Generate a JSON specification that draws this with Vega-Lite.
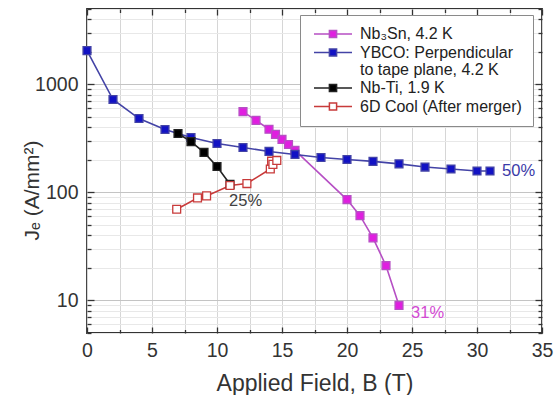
{
  "$schema": "https://vega.github.io/schema/vega-lite/v6.json",
  "width": 455,
  "height": 324,
  "autosize": {"type": "none"},
  "padding": {"left": 87, "top": 9, "right": 12, "bottom": 62},
  "background": "white",
  "config": {
    "font": "Liberation Sans",
    "view": {"stroke": "#333333", "strokeWidth": 1.8, "fill": "transparent"},
    "axis": {
      "domain": false,
      "labelFont": "Liberation Sans",
      "labelFontSize": 19.5,
      "labelColor": "#333333",
      "titleFont": "Liberation Sans",
      "titleFontWeight": "normal",
      "titleColor": "#333333",
      "tickColor": "#333333",
      "tickWidth": 1.3
    },
    "legend": {
      "orient": "none",
      "legendX": 213,
      "legendY": 6,
      "fillColor": "white",
      "strokeColor": "#8a8a8a",
      "padding": 11,
      "symbolType": "M-4.75,0H-0.9M0.9,0H4.75M-0.9,-0.9H0.9V0.9H-0.9Z",
      "symbolSize": 64,
      "symbolStrokeWidth": 1.5,
      "symbolOffset": 14,
      "labelFont": "Liberation Sans",
      "labelFontSize": 16,
      "labelColor": "#222222",
      "labelOffset": 19,
      "labelLimit": 300,
      "rowPadding": 2.5
    }
  },
  "data": {
    "values": [
      {"series": "Nb₃Sn, 4.2 K", "B": 12, "J": 560},
      {"series": "Nb₃Sn, 4.2 K", "B": 13, "J": 465},
      {"series": "Nb₃Sn, 4.2 K", "B": 14, "J": 385},
      {"series": "Nb₃Sn, 4.2 K", "B": 14.5, "J": 345},
      {"series": "Nb₃Sn, 4.2 K", "B": 15, "J": 310},
      {"series": "Nb₃Sn, 4.2 K", "B": 15.5, "J": 278},
      {"series": "Nb₃Sn, 4.2 K", "B": 16, "J": 245},
      {"series": "Nb₃Sn, 4.2 K", "B": 20, "J": 86},
      {"series": "Nb₃Sn, 4.2 K", "B": 21, "J": 61},
      {"series": "Nb₃Sn, 4.2 K", "B": 22, "J": 38},
      {"series": "Nb₃Sn, 4.2 K", "B": 23, "J": 21},
      {"series": "Nb₃Sn, 4.2 K", "B": 24, "J": 9},
      {"series": "YBCO: Perpendicular to tape plane, 4.2 K", "B": 0, "J": 2060},
      {"series": "YBCO: Perpendicular to tape plane, 4.2 K", "B": 2, "J": 726},
      {"series": "YBCO: Perpendicular to tape plane, 4.2 K", "B": 4, "J": 484},
      {"series": "YBCO: Perpendicular to tape plane, 4.2 K", "B": 6, "J": 383},
      {"series": "YBCO: Perpendicular to tape plane, 4.2 K", "B": 8, "J": 323},
      {"series": "YBCO: Perpendicular to tape plane, 4.2 K", "B": 10, "J": 284},
      {"series": "YBCO: Perpendicular to tape plane, 4.2 K", "B": 12, "J": 261},
      {"series": "YBCO: Perpendicular to tape plane, 4.2 K", "B": 14, "J": 240},
      {"series": "YBCO: Perpendicular to tape plane, 4.2 K", "B": 16, "J": 225},
      {"series": "YBCO: Perpendicular to tape plane, 4.2 K", "B": 18, "J": 211},
      {"series": "YBCO: Perpendicular to tape plane, 4.2 K", "B": 20, "J": 202},
      {"series": "YBCO: Perpendicular to tape plane, 4.2 K", "B": 22, "J": 194},
      {"series": "YBCO: Perpendicular to tape plane, 4.2 K", "B": 24, "J": 184},
      {"series": "YBCO: Perpendicular to tape plane, 4.2 K", "B": 26, "J": 172},
      {"series": "YBCO: Perpendicular to tape plane, 4.2 K", "B": 28, "J": 165},
      {"series": "YBCO: Perpendicular to tape plane, 4.2 K", "B": 30, "J": 158},
      {"series": "YBCO: Perpendicular to tape plane, 4.2 K", "B": 31, "J": 158},
      {"series": "Nb-Ti, 1.9 K", "B": 7, "J": 352},
      {"series": "Nb-Ti, 1.9 K", "B": 8, "J": 296},
      {"series": "Nb-Ti, 1.9 K", "B": 9, "J": 235},
      {"series": "Nb-Ti, 1.9 K", "B": 10, "J": 174},
      {"series": "Nb-Ti, 1.9 K", "B": 11, "J": 119},
      {"series": "6D Cool (After merger)", "B": 6.9, "J": 70},
      {"series": "6D Cool (After merger)", "B": 8.5, "J": 89},
      {"series": "6D Cool (After merger)", "B": 9.2, "J": 93},
      {"series": "6D Cool (After merger)", "B": 11, "J": 116},
      {"series": "6D Cool (After merger)", "B": 12.3, "J": 121},
      {"series": "6D Cool (After merger)", "B": 14.1, "J": 165},
      {"series": "6D Cool (After merger)", "B": 14.2, "J": 195},
      {"series": "6D Cool (After merger)", "B": 14.3, "J": 182},
      {"series": "6D Cool (After merger)", "B": 14.6, "J": 198}
    ]
  },
  "layer": [
    {
      "mark": {"type": "line", "strokeWidth": 1.6},
      "encoding": {
        "x": {
          "field": "B",
          "type": "quantitative",
          "scale": {"domain": [0, 35], "nice": false, "zero": false},
          "axis": {
            "orient": "bottom",
            "title": "Applied Field, B (T)",
            "titleFontSize": 23,
            "titlePadding": 10,
            "values": [0, 2.5, 5, 7.5, 10, 12.5, 15, 17.5, 20, 22.5, 25, 27.5, 30, 32.5, 35],
            "labelExpr": "datum.value % 5 === 0 ? datum.label : ''",
            "labelFlush": false,
            "labelOverlap": false,
            "grid": true,
            "gridColor": "#d6d6d6",
            "gridWidth": 1,
            "ticks": true,
            "tickSize": {"condition": {"test": "datum.value % 5 === 0", "value": -6}, "value": -3.5},
            "labelPadding": 14
          }
        },
        "y": {
          "field": "J",
          "type": "quantitative",
          "scale": {"type": "log", "domain": [5, 5000], "nice": false},
          "axis": {
            "orient": "left",
            "title": "Jₑ (A/mm²)",
            "titleFontSize": 21,
            "titleBaseline": "alphabetic",
            "titleX": -49,
            "titleY": 181,
            "format": "d",
            "values": [5, 6, 7, 8, 9, 10, 20, 30, 40, 50, 60, 70, 80, 90, 100, 200, 300, 400, 500, 600, 700, 800, 900, 1000, 2000, 3000, 4000, 5000],
            "labelExpr": "datum.value == 10 || datum.value == 100 || datum.value == 1000 ? datum.label : ''",
            "labelOverlap": false,
            "labelFlush": false,
            "grid": true,
            "gridColor": {"condition": {"test": "datum.value == 10 || datum.value == 100 || datum.value == 1000", "value": "#c4c4c4"}, "value": "#e8e8e8"},
            "ticks": true,
            "tickSize": {"condition": {"test": "datum.value == 10 || datum.value == 100 || datum.value == 1000", "value": -7}, "value": -4},
            "labelPadding": 16
          }
        },
        "stroke": {
          "field": "series",
          "type": "nominal",
          "scale": {
            "domain": ["Nb₃Sn, 4.2 K", "YBCO: Perpendicular to tape plane, 4.2 K", "Nb-Ti, 1.9 K", "6D Cool (After merger)"],
            "range": ["#b64fc4", "#4343a6", "#222222", "#c83a3a"]
          },
          "legend": {
            "title": null,
            "labelExpr": "indexof(datum.label, 'YBCO') == 0 ? ['YBCO: Perpendicular', 'to tape plane, 4.2 K'] : datum.label",
            "encode": {"labels": {"update": {"lineHeight": {"value": 17}}}}
          }
        }
      }
    },
    {
      "mark": {"type": "point", "shape": "square", "size": 62, "opacity": 1, "fillOpacity": 1, "strokeWidth": 1.3},
      "encoding": {
        "x": {
          "field": "B",
          "type": "quantitative",
          "axis": {
            "orient": "top",
            "title": null,
            "labels": false,
            "grid": false,
            "ticks": true,
            "values": [0, 2.5, 5, 7.5, 10, 12.5, 15, 17.5, 20, 22.5, 25, 27.5, 30, 32.5, 35],
            "tickSize": {"condition": {"test": "datum.value % 5 === 0", "value": -6}, "value": -3.5}
          }
        },
        "y": {
          "field": "J",
          "type": "quantitative",
          "axis": {
            "orient": "right",
            "title": null,
            "labels": false,
            "grid": false,
            "ticks": true,
            "values": [5, 6, 7, 8, 9, 10, 20, 30, 40, 50, 60, 70, 80, 90, 100, 200, 300, 400, 500, 600, 700, 800, 900, 1000, 2000, 3000, 4000, 5000],
            "tickSize": {"condition": {"test": "datum.value == 10 || datum.value == 100 || datum.value == 1000", "value": -7}, "value": -4}
          }
        },
        "stroke": {
          "field": "series",
          "type": "nominal",
          "legend": {
            "title": null,
            "labelExpr": "indexof(datum.label, 'YBCO') == 0 ? ['YBCO: Perpendicular', 'to tape plane, 4.2 K'] : datum.label",
            "encode": {"labels": {"update": {"lineHeight": {"value": 17}}}}
          }
        },
        "fill": {
          "field": "series",
          "type": "nominal",
          "scale": {
            "domain": ["Nb₃Sn, 4.2 K", "YBCO: Perpendicular to tape plane, 4.2 K", "Nb-Ti, 1.9 K", "6D Cool (After merger)"],
            "range": ["#e01ee0", "#1212c4", "#000000", "#ffffff"]
          },
          "legend": {
            "title": null,
            "labelExpr": "indexof(datum.label, 'YBCO') == 0 ? ['YBCO: Perpendicular', 'to tape plane, 4.2 K'] : datum.label",
            "encode": {"labels": {"update": {"lineHeight": {"value": 17}}}}
          }
        }
      }
    },
    {
      "data": {
        "values": [
          {"B": 33.2, "J": 157, "label": "50%"},
          {"B": 12.2, "J": 84, "label": "25%"},
          {"B": 26.2, "J": 7.6, "label": "31%"}
        ]
      },
      "mark": {"type": "text", "fontSize": 16.5, "font": "Liberation Sans", "align": "center", "baseline": "middle"},
      "encoding": {
        "x": {"field": "B", "type": "quantitative", "axis": null},
        "y": {"field": "J", "type": "quantitative", "axis": null},
        "color": {
          "field": "label",
          "type": "nominal",
          "scale": {"domain": ["50%", "25%", "31%"], "range": ["#3a3aa8", "#404040", "#d24ad2"]},
          "legend": null
        },
        "text": {"field": "label"}
      }
    }
  ],
  "resolve": {"axis": {"x": "independent", "y": "independent"}}
}
